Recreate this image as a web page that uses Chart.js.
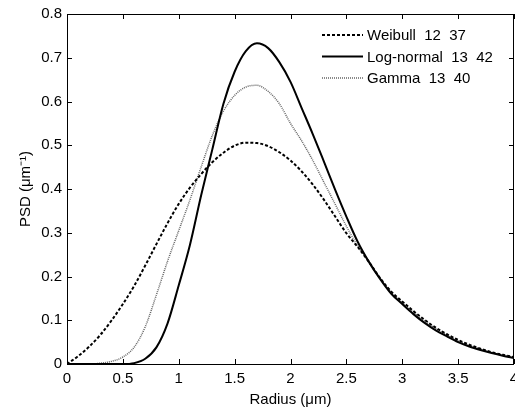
<!DOCTYPE html>
<html>
<head>
<meta charset="utf-8">
<script src="https://cdn.jsdelivr.net/npm/chart.js@4"></script>
<style>
  html, body { margin: 0; padding: 0; background: #fff; }
  #wrap { width: 515px; height: 409px; }
</style>
</head>
<body>
<div id="wrap"><canvas id="psdChart" width="515" height="409"></canvas></div>
<script>
// Radius values (um)
const radius = [0, 0.1, 0.2, 0.3, 0.4, 0.5, 0.6, 0.7, 0.8, 0.9,
                1.0, 1.1, 1.2, 1.3, 1.4, 1.5, 1.6, 1.7, 1.8, 1.9,
                2.0, 2.1, 2.2, 2.3, 2.4, 2.5, 2.6, 2.7, 2.8, 2.9,
                3.0, 3.1, 3.2, 3.3, 3.4, 3.5, 3.6, 3.7, 3.8, 3.9, 4.0];

// PSD
const weibull = [0, 0.018, 0.04, 0.067, 0.1, 0.137, 0.178, 0.225, 0.274, 0.322,
                 0.366, 0.403, 0.434, 0.461, 0.483, 0.499, 0.506, 0.505, 0.498, 0.484,
                 0.465, 0.44, 0.41, 0.375, 0.337, 0.299, 0.268, 0.234, 0.197, 0.166,
                 0.143, 0.121, 0.101, 0.083, 0.068, 0.055, 0.044, 0.035, 0.027, 0.021, 0.016];

const logNormal = [0, 0, 0, 0, 0, 0, 0.002, 0.012, 0.038, 0.093,
                   0.18, 0.272, 0.385, 0.49, 0.595, 0.668, 0.715, 0.733, 0.722, 0.69,
                   0.645, 0.585, 0.525, 0.462, 0.398, 0.337, 0.28, 0.234, 0.195, 0.161,
                   0.137, 0.114, 0.094, 0.077, 0.063, 0.05, 0.04, 0.032, 0.025, 0.019, 0.014];

const gamma = [0, 0, 0, 0.002, 0.006, 0.016, 0.038, 0.085, 0.158, 0.235,
               0.305, 0.375, 0.45, 0.522, 0.578, 0.614, 0.633, 0.637, 0.623, 0.595,
               0.55, 0.51, 0.465, 0.415, 0.365, 0.315, 0.27, 0.235, 0.196, 0.164,
               0.14, 0.118, 0.098, 0.081, 0.066, 0.053, 0.042, 0.034, 0.026, 0.02, 0.015];

const legendLabels = ['Weibull  12  37', 'Log-normal  13  42', 'Gamma  13  40'];

const FONT = '"Liberation Sans", Arial, sans-serif';

function fmt(v) {
    return String(Number(v.toFixed(2)));
}

function toPoints(ys) {
    return radius.map((x, i) => ({ x: x, y: ys[i] }));
}

// MATLAB-like box with inward ticks, and legend inside the axes
const boxPlugin = {
    id: 'boxPlugin',
    afterDatasetsDraw(chart) {
        const ctx = chart.ctx;
        const a = chart.chartArea;
        const xs = chart.scales.x;
        const ys = chart.scales.y;
        const len = 5;
        ctx.save();
        ctx.strokeStyle = '#000';
        ctx.lineWidth = 1;
        ctx.beginPath();
        xs.ticks.forEach(t => {
            const px = Math.round(xs.getPixelForValue(t.value)) + 0.5;
            ctx.moveTo(px, a.bottom); ctx.lineTo(px, a.bottom - len);
            ctx.moveTo(px, a.top); ctx.lineTo(px, a.top + len);
        });
        ys.ticks.forEach(t => {
            const py = Math.round(ys.getPixelForValue(t.value)) + 0.5;
            ctx.moveTo(a.left, py); ctx.lineTo(a.left + len, py);
            ctx.moveTo(a.right, py); ctx.lineTo(a.right - len, py);
        });
        ctx.stroke();
        ctx.strokeRect(Math.round(a.left) + 0.5, Math.round(a.top) + 0.5,
                       Math.round(a.right - a.left) - 1, Math.round(a.bottom - a.top));

        // legend
        ctx.font = '15px ' + FONT;
        ctx.textBaseline = 'middle';
        ctx.textAlign = 'left';
        ctx.fillStyle = '#000';
        const x0 = a.left + 255, x1 = a.left + 296, tx = a.left + 300;
        chart.data.datasets.forEach((ds, i) => {
            const y = a.top + 21 + i * 21.5;
            ctx.save();
            ctx.strokeStyle = ds.borderColor;
            ctx.lineWidth = ds.borderWidth;
            ctx.setLineDash(ds.borderDash || []);
            ctx.beginPath();
            ctx.moveTo(x0, y); ctx.lineTo(x1, y);
            ctx.stroke();
            ctx.restore();
            ctx.fillText(legendLabels[i], tx, y + 1);
        });
        ctx.restore();
    }
};

const ctx = document.getElementById('psdChart').getContext('2d');
new Chart(ctx, {
    type: 'line',
    data: {
        datasets: [{
            label: legendLabels[0],
            data: toPoints(weibull),
            borderColor: '#000',
            borderWidth: 2,
            borderDash: [3, 2],
            pointRadius: 0,
            cubicInterpolationMode: 'monotone',
            fill: false
        }, {
            label: legendLabels[1],
            data: toPoints(logNormal),
            borderColor: '#000',
            borderWidth: 2,
            pointRadius: 0,
            cubicInterpolationMode: 'monotone',
            fill: false
        }, {
            label: legendLabels[2],
            data: toPoints(gamma),
            borderColor: '#666',
            borderWidth: 1.5,
            borderDash: [1, 1],
            pointRadius: 0,
            cubicInterpolationMode: 'monotone',
            fill: false
        }]
    },
    options: {
        responsive: false,
        animation: false,
        devicePixelRatio: 1,
        layout: { padding: { top: 14, right: 1, left: 0, bottom: 0 } },
        scales: {
            x: {
                type: 'linear',
                min: 0,
                max: 4,
                border: { display: false },
                grid: { display: false, drawTicks: false },
                ticks: {
                    stepSize: 0.5,
                    padding: 6,
                    maxRotation: 0,
                    color: '#000',
                    font: { family: FONT, size: 15 },
                    callback: v => fmt(v)
                },
                title: {
                    display: true,
                    text: 'Radius (μm)',
                    color: '#000',
                    font: { family: FONT, size: 15 },
                    padding: { top: 0, bottom: 0 }
                },
                afterFit(scale) {
                    scale.height = 45;
                    scale.paddingLeft = 0;
                    scale.paddingRight = 0;
                }
            },
            y: {
                min: 0,
                max: 0.8,
                border: { display: false },
                grid: { display: false, drawTicks: false },
                ticks: {
                    stepSize: 0.1,
                    padding: 5,
                    color: '#000',
                    font: { family: FONT, size: 15 },
                    callback: v => fmt(v)
                },
                title: {
                    display: true,
                    text: 'PSD (μm⁻¹)',
                    color: '#000',
                    font: { family: FONT, size: 15 },
                    padding: { top: 17, bottom: 0 }
                },
                afterFit(scale) {
                    scale.width = 67;
                    scale.paddingTop = 0;
                    scale.paddingBottom = 0;
                }
            }
        },
        plugins: {
            legend: { display: false },
            tooltip: { enabled: false }
        }
    },
    plugins: [boxPlugin]
});
</script>
</body>
</html>
